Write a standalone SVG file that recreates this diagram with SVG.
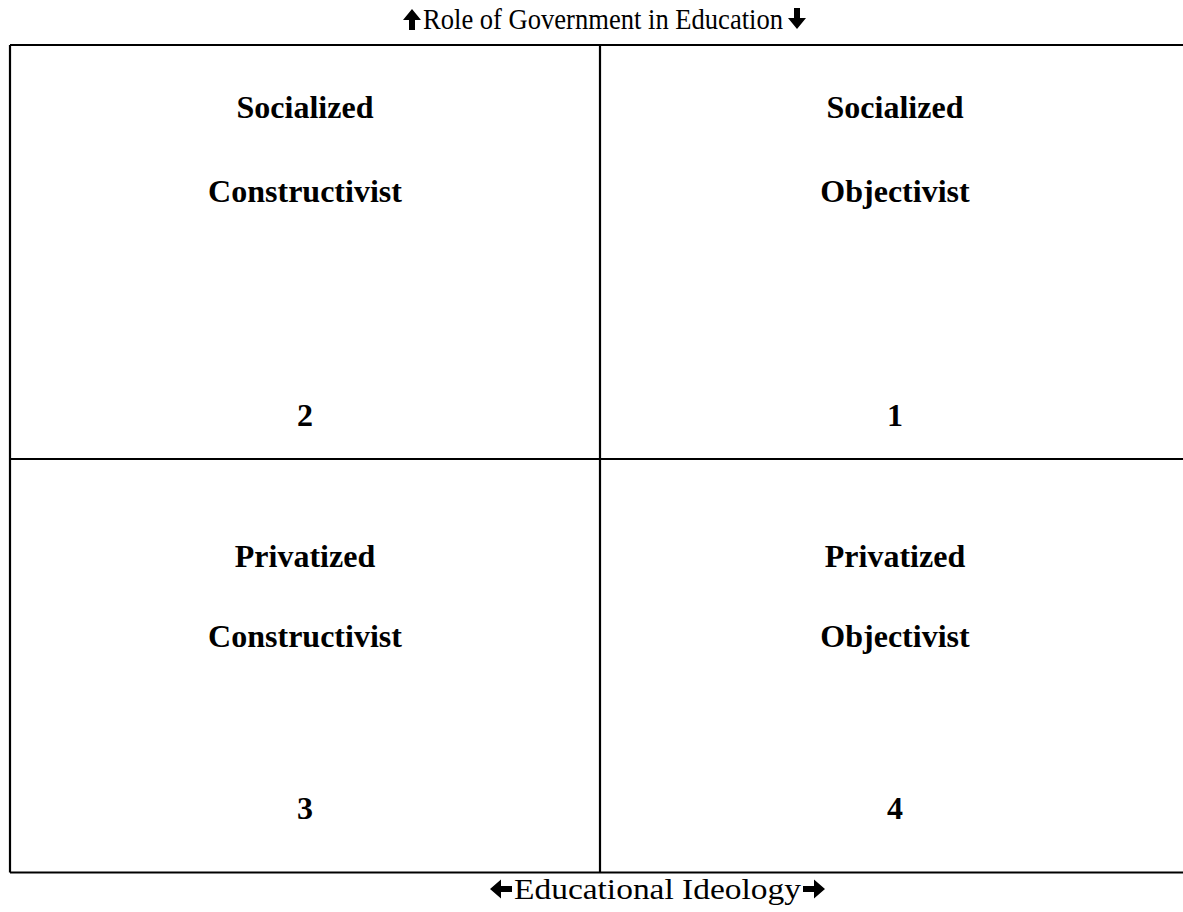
<svg xmlns="http://www.w3.org/2000/svg" width="1183" height="912" viewBox="0 0 1183 912">
<style>
.lbl{font-family:"Liberation Serif","DejaVu Serif",serif;font-weight:bold;font-size:32px;fill:#000;text-anchor:middle}
.ax{font-family:"Liberation Serif","DejaVu Serif",serif;font-size:29px;fill:#000}
.ln{stroke:#000;stroke-width:2.2;fill:none}
.arr{fill:#000}
</style>
<rect width="1183" height="912" fill="#fff"/>
<g id="grid">
<path class="ln" d="M10,45 H1195 M10,872.5 H1195 M10,45 V872.5 M600,45 V872.5 M10,459 H1195"/>
</g>
<g id="axis-top">
<path class="arr" d="M412,9 L403,20 L409,20 L409,30 L415,30 L415,20 L421,20 Z"/>
<text class="ax" x="423" y="29" textLength="360" lengthAdjust="spacingAndGlyphs">Role of Government in Education</text>
<path class="arr" d="M797,29 L788,18 L794,18 L794,8 L800,8 L800,18 L806,18 Z"/>
</g>
<g id="axis-bottom">
<path class="arr" d="M490,889 L501,879.5 L501,886 L512,886 L512,892 L501,892 L501,898.5 Z"/>
<text class="ax" x="514" y="899" textLength="287" lengthAdjust="spacingAndGlyphs">Educational Ideology</text>
<path class="arr" d="M825,889 L814,879.5 L814,886 L803,886 L803,892 L814,892 L814,898.5 Z"/>
</g>
<g id="q2">
<text class="lbl" x="305" y="118">Socialized</text>
<text class="lbl" x="305" y="202">Constructivist</text>
<text class="lbl" x="305" y="426">2</text>
</g>
<g id="q1">
<text class="lbl" x="895" y="118">Socialized</text>
<text class="lbl" x="895" y="202">Objectivist</text>
<text class="lbl" x="895" y="426">1</text>
</g>
<g id="q3">
<text class="lbl" x="305" y="567">Privatized</text>
<text class="lbl" x="305" y="647">Constructivist</text>
<text class="lbl" x="305" y="819">3</text>
</g>
<g id="q4">
<text class="lbl" x="895" y="567">Privatized</text>
<text class="lbl" x="895" y="647">Objectivist</text>
<text class="lbl" x="895" y="819">4</text>
</g>
</svg>
